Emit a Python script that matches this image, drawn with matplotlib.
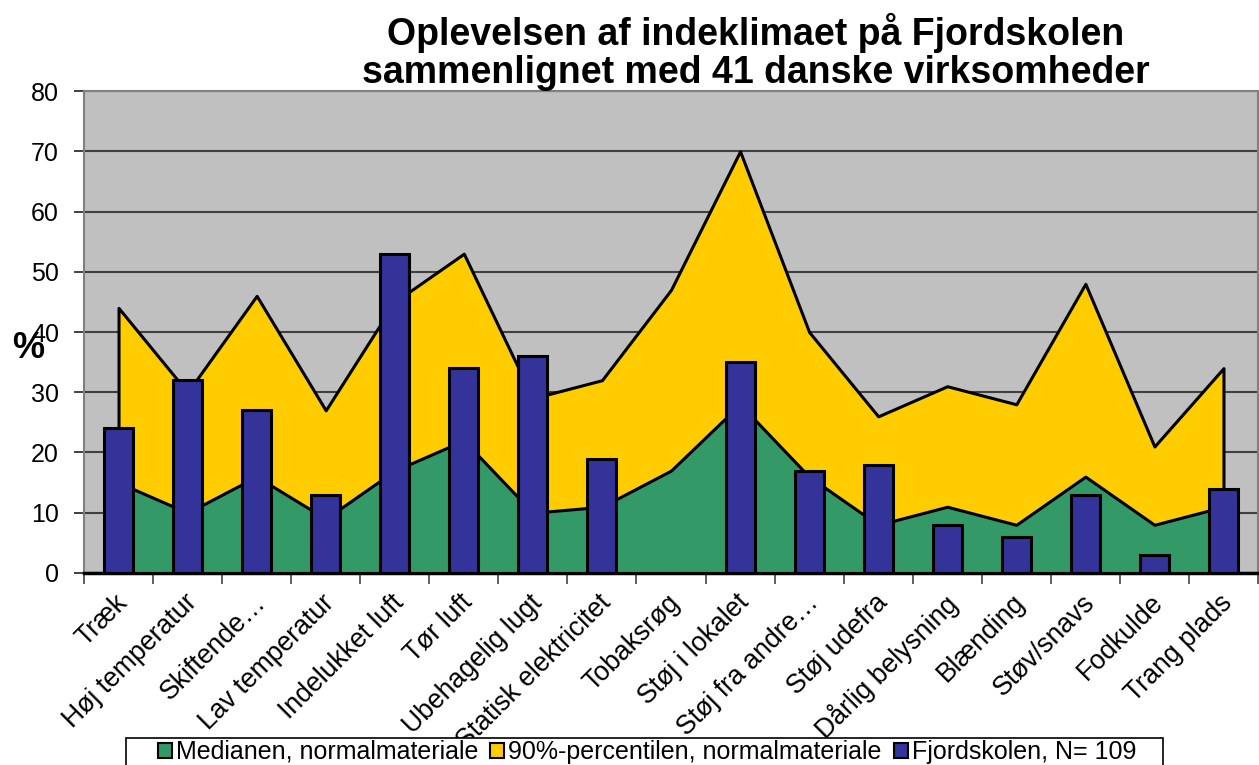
import numpy as np
import matplotlib.pyplot as plt
import matplotlib.transforms as mtransforms
from matplotlib.patches import Patch, Rectangle

plt.rcParams['font.family'] = ['Liberation Sans', 'DejaVu Sans']

# data
kategorier = ["Træk", "Høj temperatur", "Skiftende…", "Lav temperatur",
              "Indelukket luft", "Tør luft", "Ubehagelig lugt",
              "Statisk elektricitet", "Tobaksrøg", "Støj i lokalet",
              "Støj fra andre…", "Støj udefra", "Dårlig belysning",
              "Blænding", "Støv/snavs", "Fodkulde", "Trang plads"]
median = [15, 10, 16, 9, 17, 22, 10, 11, 17, 28, 16, 8, 11, 8, 16, 8, 11]
percentil90 = [44, 30, 46, 27, 45, 53, 29, 32, 47, 70, 40, 26, 31, 28, 48, 21, 34]
fjordskolen = [24, 32, 27, 13, 53, 34, 36, 19, 0, 35, 17, 18, 8, 6, 13, 3, 14]

GUL = '#FFCC00'
GRON = '#339966'
BLA = '#333399'
GRA = '#C0C0C0'

fig = plt.figure(figsize=(12.59, 7.65), dpi=100)
ax = fig.add_axes([84 / 1259, 0.251, 1174 / 1259, 0.630])
ax.set_facecolor(GRA)

x = np.arange(len(kategorier))

ax.fill_between(x, 0, percentil90, facecolor=GUL, edgecolor='black',
                linewidth=2.2, zorder=2)
ax.fill_between(x, 0, median, facecolor=GRON, edgecolor='black',
                linewidth=2.2, zorder=3)
ax.bar(x, fjordskolen, width=0.42, color=BLA, edgecolor='black',
       linewidth=2.2, zorder=4)

ax.set_xlim(-0.5, len(kategorier) - 0.5)
ax.set_ylim(0, 80)
ax.set_yticks(np.arange(0, 81, 10))
ax.yaxis.grid(True, color='#404040', linewidth=1.5)
ax.set_axisbelow(True)

ax.set_xticks(x)
ax.set_xticklabels(kategorier, rotation=45, ha='right',
                   rotation_mode='anchor', fontsize=19.2)
ax.set_xticks(np.arange(-0.5, len(kategorier)), minor=True)
ax.tick_params(axis='x', which='major', length=0, pad=12)
ax.tick_params(axis='x', which='minor', length=8, width=1.4, color='#606060')
ax.tick_params(axis='y', labelsize=18, length=7, width=1.4, color='#404040',
               pad=11)
skift = mtransforms.ScaledTranslation(-4 / 100, 0, fig.dpi_scale_trans)
for lbl in ax.get_xticklabels():
    lbl.set_transform(lbl.get_transform() + skift)

for s in ax.spines.values():
    s.set_color('#808080')
    s.set_linewidth(1.5)
ax.spines['bottom'].set_color('black')
ax.spines['bottom'].set_linewidth(2.5)

fig.text(28 / 1259, 1 - 349 / 765, '%', fontsize=26, fontweight='bold',
         ha='center', va='center')

fig.text(756 / 1259, 1 - 52 / 765, 'Oplevelsen af indeklimaet på Fjordskolen\n'
         'sammenlignet med 41 danske virksomheder',
         fontsize=27, fontweight='bold', ha='center', va='center',
         linespacing=1.05)

# legend frame runs off the bottom edge and covers the label ends, as in the original
fig.patches.append(Rectangle((126 / 1259, -0.02), (1163 - 126) / 1259,
                             (765 - 738) / 765 + 0.02, transform=fig.transFigure,
                             facecolor='white', edgecolor='black', linewidth=1.2))

handles = [Patch(facecolor=GRON, edgecolor='black', linewidth=1.5),
           Patch(facecolor=GUL, edgecolor='black', linewidth=1.5),
           Patch(facecolor=BLA, edgecolor='black', linewidth=1.5)]
labels = ['Medianen, normalmateriale', '90%-percentilen, normalmateriale',
          'Fjordskolen, N= 109']
fig.legend(handles, labels, loc='center', ncol=3,
           bbox_to_anchor=(647 / 1259, 1 - 752 / 765), fontsize=18,
           frameon=False, handlelength=0.56, handleheight=0.56,
           handletextpad=0.15, columnspacing=0.5, borderpad=0)

fig.savefig('out.png', dpi=100)
